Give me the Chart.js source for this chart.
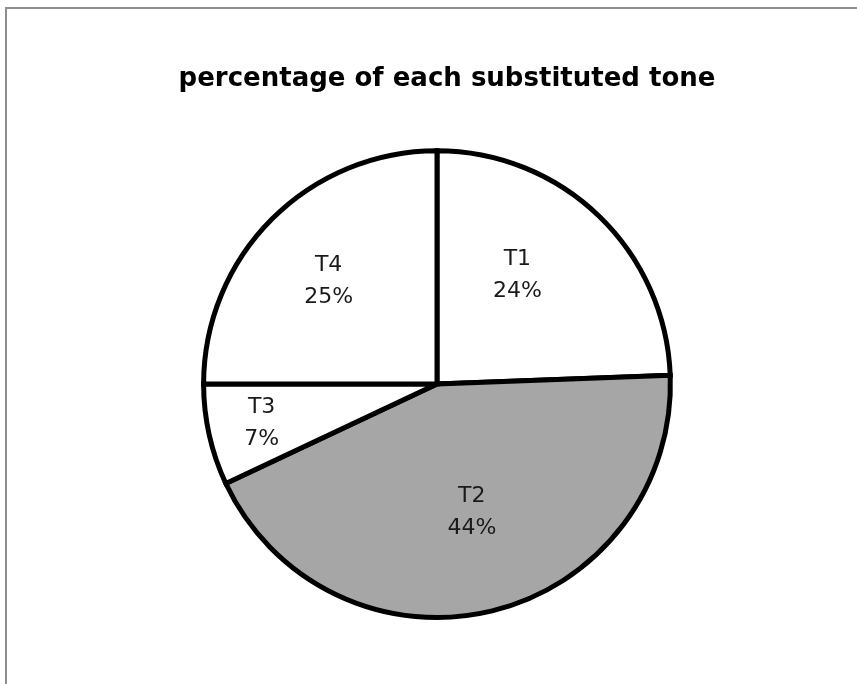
<!DOCTYPE html>
<html>
<head>
<meta charset="utf-8">
<script src="https://cdn.jsdelivr.net/npm/chart.js@4"></script>
<style>
  html, body { margin: 0; padding: 0; background: #fff; }
  #wrap { position: relative; width: 857px; height: 684px; overflow: hidden; }
  #frame {
    position: absolute; left: 5px; top: 7px; width: 900px; height: 720px;
    border: 2px solid #8e8e8e; box-sizing: border-box;
  }
  #toneChart { position: absolute; left: 0; top: 0; }
</style>
</head>
<body>
<div id="wrap">
  <div id="frame"></div>
  <canvas id="toneChart" width="857" height="684"></canvas>
</div>
<script>
const tones = ["T1", "T2", "T3", "T4"];
const tonePercent = [24.4, 43.6, 7, 25];
const sliceColors = ["#ffffff", "#a6a6a6", "#ffffff", "#ffffff"];
// where each label sits: fraction of radius, and a small angle tweak (deg), like excel's best fit
const labelRadius = [0.58, 0.57, 0.77, 0.64];
const labelTurn = [-7.5, -1.5, 0, -1.5];

const ctx = document.getElementById("toneChart").getContext("2d");

// title is a bit right of the pie in the original
const nudgeTitle = {
  id: "nudgeTitle",
  afterLayout(chart) {
    const t = chart.titleBlock;
    if (t) {
      t.left += 10;
      t.right += 10;
    }
  },
};

const sliceLabels = {
  id: "sliceLabels",
  afterDatasetsDraw(chart) {
    const c = chart.ctx;
    const meta = chart.getDatasetMeta(0);
    const total = tonePercent.reduce((a, b) => a + b, 0);
    c.save();
    c.font = "22px 'DejaVu Sans'";
    c.fillStyle = "#1a1a1a";
    c.textAlign = "center";
    c.textBaseline = "middle";
    meta.data.forEach((arc, i) => {
      const mid = (arc.startAngle + arc.endAngle) / 2 + (labelTurn[i] * Math.PI) / 180;
      const r = arc.outerRadius * labelRadius[i];
      const x = arc.x + Math.cos(mid) * r;
      const y = arc.y + Math.sin(mid) * r;
      const pct = Math.round((tonePercent[i] / total) * 100) + "%";
      c.fillText(tones[i], x, y - 16);
      c.fillText(pct, x, y + 16);
    });
    c.restore();
  },
};

new Chart(ctx, {
  type: "pie",
  data: {
    labels: tones,
    datasets: [
      {
        data: tonePercent,
        backgroundColor: sliceColors,
        borderColor: "#000000",
        borderWidth: 5,
        borderJoinStyle: "miter",
      },
    ],
  },
  options: {
    responsive: false,
    animation: false,
    layout: {
      padding: { left: 100, right: 83, top: 0, bottom: 64 },
    },
    plugins: {
      legend: { display: false },
      tooltip: { enabled: false },
      title: {
        display: true,
        text: "percentage of each substituted tone",
        color: "#000000",
        font: { family: "'DejaVu Sans'", size: 26, weight: "bold" },
        padding: { top: 64, bottom: 53 },
      },
    },
  },
  plugins: [nudgeTitle, sliceLabels],
});
</script>
</body>
</html>
